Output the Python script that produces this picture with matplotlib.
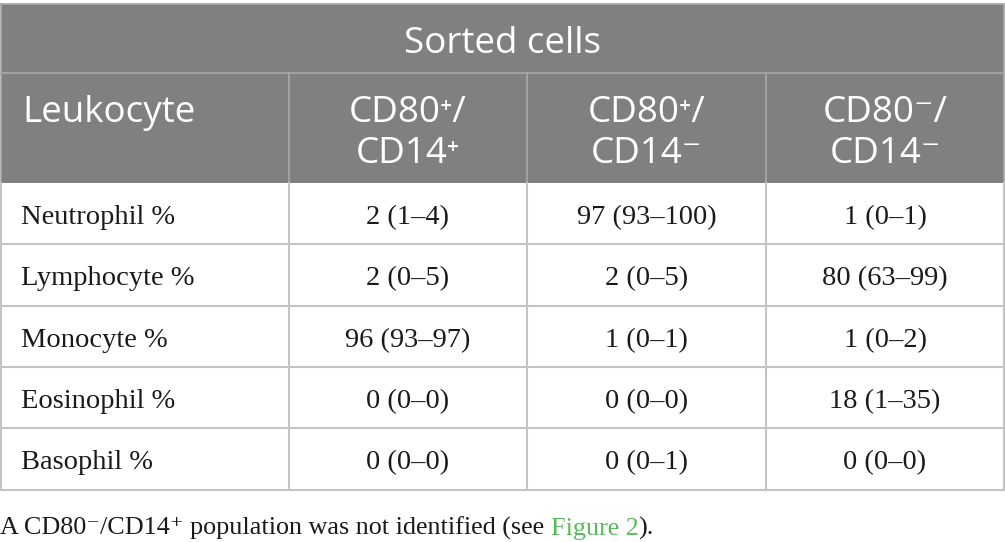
import matplotlib
matplotlib.use("Agg")
import matplotlib.pyplot as plt

# table content
group_title = "Sorted cells"
row_header = "Leukocyte"
col_headers = [("CD80\u207a/", "CD14\u207a"), ("CD80\u207a/", "CD14\u207b"), ("CD80\u207b/", "CD14\u207b")]
row_labels = ["Neutrophil %", "Lymphocyte %", "Monocyte %", "Eosinophil %", "Basophil %"]
col1 = ["2 (1\u20134)", "2 (0\u20135)", "96 (93\u201397)", "0 (0\u20130)", "0 (0\u20130)"]
col2 = ["97 (93\u2013100)", "2 (0\u20135)", "1 (0\u20131)", "0 (0\u20130)", "0 (0\u20131)"]
col3 = ["1 (0\u20131)", "80 (63\u201399)", "1 (0\u20132)", "18 (1\u201335)", "0 (0\u20130)"]
note_text = "A CD80\u207b/CD14\u207a population was not identified (see "
note_link = "Figure 2"
note_end = ")."

W, H = 1005, 542
fig = plt.figure(figsize=(W / 100, H / 100), dpi=100)
ax = fig.add_axes([0, 0, 1, 1])
ax.set_xlim(0, W)
ax.set_ylim(H, 0)
ax.axis("off")

head_bg = "#7f807f"
head_line = "#a8a8a8"
grid = "#c4c4c4"
ink = "#1a1a1a"
sans = ["Open Sans", "DejaVu Sans"]
serif = ["Liberation Serif", "DejaVu Serif"]
head_fs = 26.5
body_fs = 20.5
note_fs = 18.8

x_cols = [1, 289, 527, 766, 1004]
y_top, y_h1, y_h2 = 4, 72.5, 183
y_rows = [183, 244, 306, 367, 428, 490]

# header background
ax.add_patch(plt.Rectangle((x_cols[0], y_top), x_cols[-1] - x_cols[0], y_h2 - y_top,
                           facecolor=head_bg, edgecolor="none"))
ax.plot([x_cols[0], x_cols[-1]], [y_top, y_top], color=head_line, lw=1.2)
ax.plot([x_cols[0], x_cols[-1]], [y_h1, y_h1], color=head_line, lw=1.2)
for x in x_cols:
    ax.plot([x, x], [y_h1 if x not in (x_cols[0], x_cols[-1]) else y_top, y_h2],
            color=head_line, lw=1.2)

# body grid
for y in y_rows[1:]:
    ax.plot([x_cols[0], x_cols[-1]], [y, y], color=grid, lw=1.5)
for x in x_cols:
    ax.plot([x, x], [y_h2, y_rows[-1]], color=grid, lw=1.5)

# header text
ax.text((x_cols[0] + x_cols[-1]) / 2, 53, group_title, color="white",
        fontsize=head_fs, family=sans, ha="center", va="baseline")
ax.text(22, 122, row_header, color="white", fontsize=head_fs, family=sans,
        ha="left", va="baseline")
for i, (l1, l2) in enumerate(col_headers):
    xc = (x_cols[i + 1] + x_cols[i + 2]) / 2
    ax.text(xc, 122, l1, color="white", fontsize=head_fs, family=sans,
            ha="center", va="baseline")
    ax.text(xc, 163, l2, color="white", fontsize=head_fs, family=sans,
            ha="center", va="baseline")

# body text
cols = [col1, col2, col3]
for r, lab in enumerate(row_labels):
    yb = y_rows[r] + 41
    ax.text(21, yb, lab, color=ink, fontsize=body_fs, family=serif, ha="left", va="baseline")
    for c, vals in enumerate(cols):
        xc = (x_cols[c + 1] + x_cols[c + 2]) / 2
        ax.text(xc, yb, vals[r], color=ink, fontsize=body_fs, family=serif,
                ha="center", va="baseline")

# footnote with green link
renderer = fig.canvas.get_renderer()
x0, yb = 0, 535
t1 = ax.text(x0, yb, note_text, color=ink, fontsize=note_fs, family=serif, va="baseline")
w1 = t1.get_window_extent(renderer).width
t2 = ax.text(x0 + w1, yb, note_link, color="#5cb85c", fontsize=note_fs, family=serif, va="baseline")
w2 = t2.get_window_extent(renderer).width
ax.text(x0 + w1 + w2, yb, note_end, color=ink, fontsize=note_fs, family=serif, va="baseline")

fig.savefig("out.png", dpi=100, facecolor="white")
